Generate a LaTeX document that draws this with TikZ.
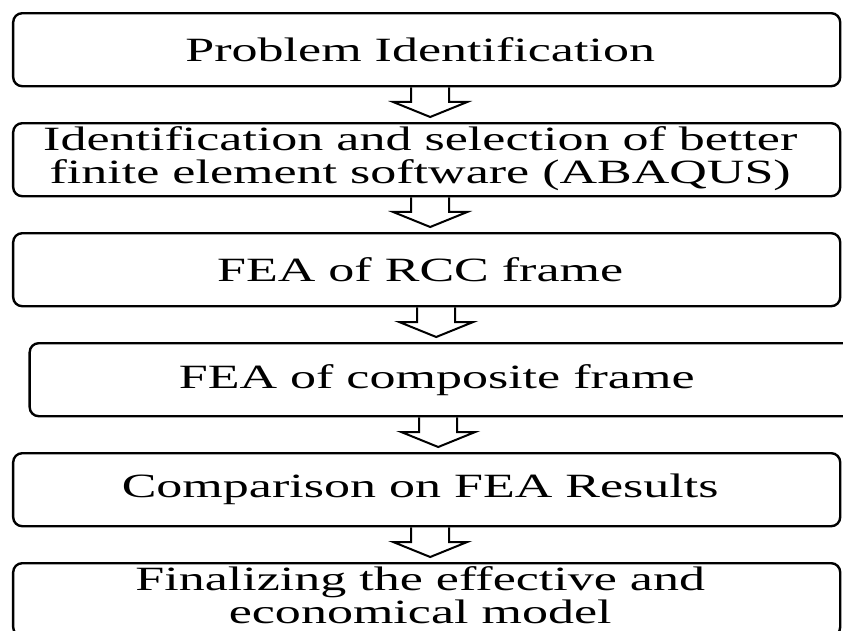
\documentclass[tikz,border=0pt]{standalone}
\usepackage{fontspec}
\setmainfont[FakeStretch=1.53]{Liberation Serif}
\usetikzlibrary{matrix}

\newcommand{\twoline}[2]{\begin{tabular}{@{}c@{}}#1\\#2\end{tabular}}

\tikzset{
	stage/.style={draw, line width=2.4pt, rounded corners=9pt, minimum width=827pt,
		minimum height=73pt, inner sep=1pt, align=center, font=\fontsize{34}{31}\selectfont},
	flowarrow/.style={draw, line width=2pt, line join=miter}
}

\begin{document}
\begin{tikzpicture}[x=1pt,y=-1pt]
\useasboundingbox (0,0) rectangle (843,631);
\matrix (m) [matrix of nodes, nodes=stage, row sep=34.6pt, inner sep=0pt, anchor=north west] at (11.8,11.8)
{
	Problem Identification \\
	\twoline{Identification and selection of better}{finite element software (ABAQUS)} \\
	FEA of RCC frame \\
	|[xshift=16.5pt]| FEA of composite frame \\
	Comparison on FEA Results \\
	\twoline{Finalizing the effective and}{economical model} \\
};
% hollow block arrows between the stages
\foreach \a/\b/\d in {1/2/3.5, 2/3/3.5, 3/4/9.5, 4/5/11.5, 5/6/3.5}
{
	\path ([xshift=\d pt]m-1-1.center |- m-\a-1.south) coordinate (top)
	      ([xshift=\d pt, yshift=5pt]m-1-1.center |- m-\b-1.north) coordinate (tip);
	\draw[flowarrow] ([xshift=-19pt]top) -- ([xshift=-19pt, yshift=15pt]tip)
		-- ([xshift=-37pt, yshift=15pt]tip) -- (tip) -- ([xshift=37pt, yshift=15pt]tip)
		-- ([xshift=19pt, yshift=15pt]tip) -- ([xshift=19pt]top);
}
\end{tikzpicture}
\end{document}
